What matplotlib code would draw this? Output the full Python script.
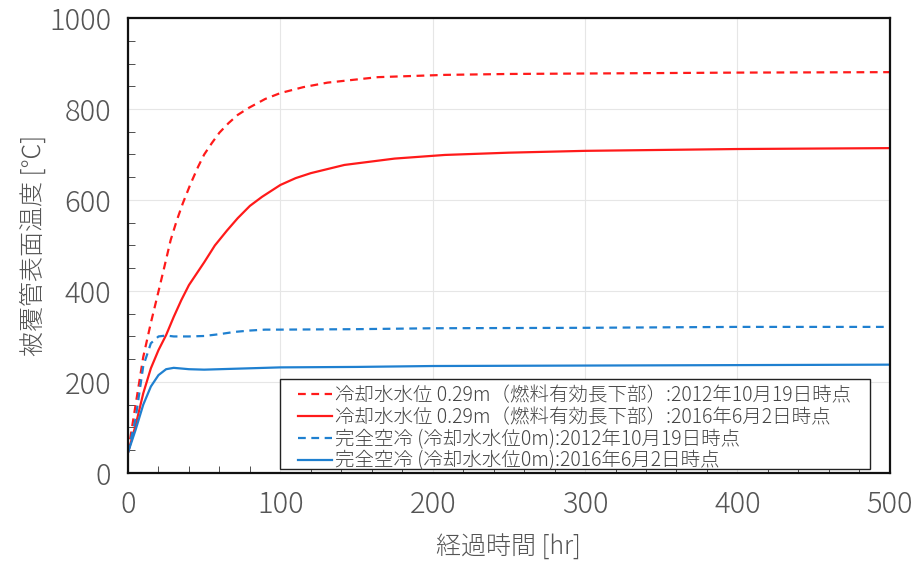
import matplotlib
matplotlib.use('Agg')
import matplotlib.pyplot as plt
from matplotlib.ticker import MultipleLocator
from matplotlib.patches import Rectangle

plt.rcParams['font.family'] = ['Noto Sans CJK JP', 'DejaVu Sans']

# red dashed: 0.29m, 2012/10/19
t_red12 = [0, 5, 10, 15, 19, 24, 28, 32, 36, 41, 46, 50, 55, 60, 66, 72, 79, 90, 100, 115, 131, 164, 208, 250, 300, 400, 500]
T_red12 = [45, 150, 255, 330, 385, 455, 512, 555, 593, 635, 673, 700, 725, 748, 769, 787, 802, 822, 835, 848, 858, 870, 875, 877, 878, 880, 881]

# red solid: 0.29m, 2016/6/2
t_red16 = [0, 5, 10, 15, 20, 25, 30, 35, 40, 46, 50, 57, 65, 72, 80, 88, 100, 110, 120, 142, 175, 208, 250, 300, 400, 500]
T_red16 = [45, 105, 175, 230, 270, 303, 343, 380, 413, 443, 463, 500, 533, 560, 587, 607, 633, 648, 659, 677, 691, 699, 704, 708, 712, 714]

# blue dashed: 0m, 2012/10/19
t_blu12 = [0, 5, 10, 15, 20, 25, 30, 40, 50, 60, 70, 80, 90, 100, 150, 200, 300, 400, 500]
T_blu12 = [45, 120, 235, 285, 300, 302, 300, 300, 301, 305, 310, 313, 315, 315, 316, 318, 319, 321, 321]

# blue solid: 0m, 2016/6/2
t_blu16 = [0, 5, 10, 15, 20, 25, 30, 40, 50, 60, 80, 100, 150, 200, 300, 400, 500]
T_blu16 = [45, 95, 150, 190, 215, 228, 231, 228, 227, 228, 230, 232, 233, 235, 236, 237, 238]

labels = [
    '冷却水水位 0.29m（燃料有効長下部）:2012年10月19日時点',
    '冷却水水位 0.29m（燃料有効長下部）:2016年6月2日時点',
    '完全空冷 (冷却水水位0m):2012年10月19日時点',
    '完全空冷 (冷却水水位0m):2016年6月2日時点',
]

red = '#ff1a1a'
blue = '#1f80d0'
dash = (0, (3.5, 2.5))

fig = plt.figure(figsize=(9.23, 5.63), dpi=100)
ax = fig.add_axes([0.1387, 0.160, 0.8253, 0.808])

ax.plot(t_red12, T_red12, color=red, lw=1.6, linestyle=dash, label=labels[0])
ax.plot(t_red16, T_red16, color=red, lw=1.6, label=labels[1])
ax.plot(t_blu12, T_blu12, color=blue, lw=1.6, linestyle=dash, label=labels[2])
ax.plot(t_blu16, T_blu16, color=blue, lw=1.6, label=labels[3])

ax.set_xlim(0, 500)
ax.set_ylim(0, 1000)
ax.xaxis.set_major_locator(MultipleLocator(100))
ax.xaxis.set_minor_locator(MultipleLocator(20))
ax.yaxis.set_major_locator(MultipleLocator(200))
ax.yaxis.set_minor_locator(MultipleLocator(50))
ax.grid(True, which='major', color='#e6e6e6', lw=0.8)
ax.tick_params(which='both', direction='in', color='#333333', labelcolor='#555555')
ax.tick_params(which='major', length=0, labelsize=21, pad=12)
ax.tick_params(which='minor', length=5)
for lab in ax.get_xticklabels() + ax.get_yticklabels():
    lab.set_fontweight('light')
for s in ax.spines.values():
    s.set_linewidth(1.6)
    s.set_color('#111111')

ax.set_xlabel('経過時間 [hr]', fontsize=18, color='#555555', labelpad=10, fontweight='light')
ax.set_ylabel('被覆管表面温度 [℃]', fontsize=18, color='#555555', labelpad=2, fontweight='light')

# legend box drawn separately so the handles can sit inset from the frame
box = Rectangle((0.1995, 0.009), 0.7745, 0.1976, transform=ax.transAxes,
                facecolor='white', edgecolor='#222222', lw=1.0, zorder=4.5)
ax.add_patch(box)
leg = ax.legend(loc='upper left', bbox_to_anchor=(0.223, 0.193), fontsize=14,
                frameon=False, handlelength=1.75, handletextpad=0.15,
                borderpad=0, labelspacing=0.04, borderaxespad=0)
for txt in leg.get_texts():
    txt.set_color('#444444')
    txt.set_fontweight('light')

fig.savefig('out.png', dpi=100)
